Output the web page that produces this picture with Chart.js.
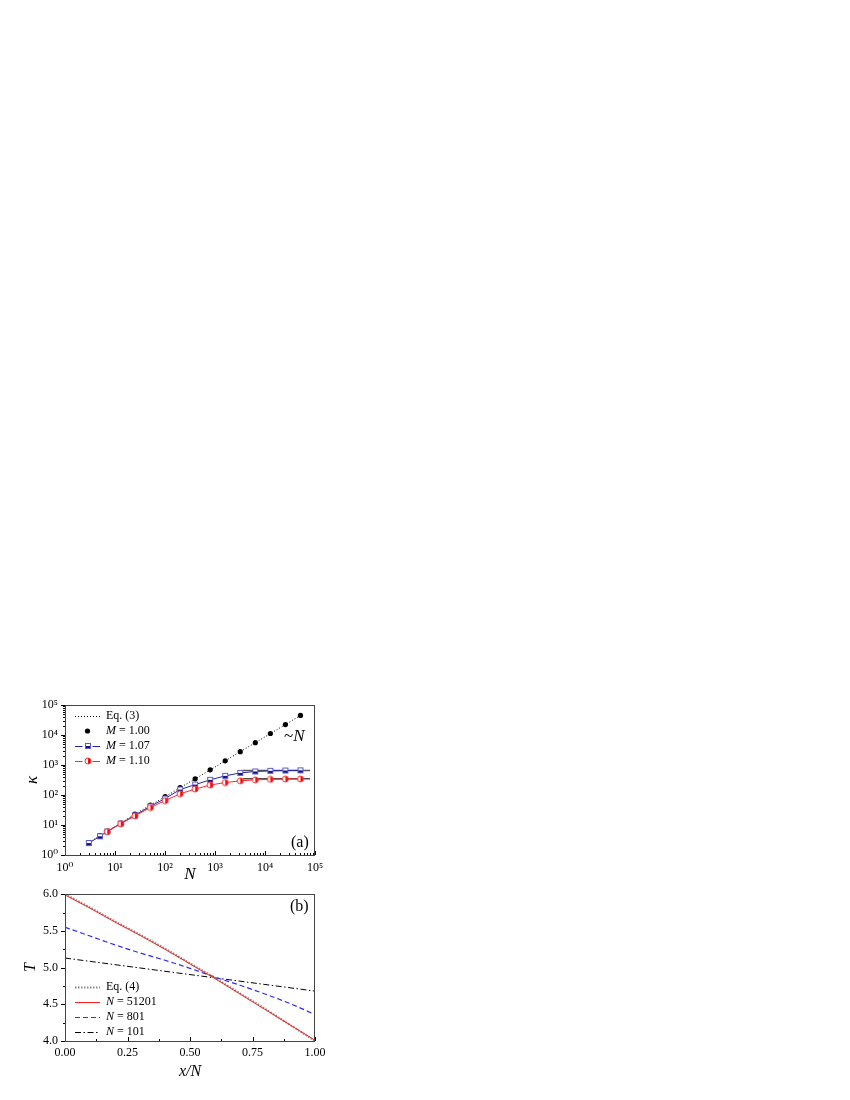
<!DOCTYPE html>
<html>
<head>
<meta charset="utf-8">
<script src="https://cdn.jsdelivr.net/npm/chart.js@4.4.0/dist/chart.umd.min.js"></script>
<style>
  body { margin: 0; background: #fff; width: 850px; height: 1100px; position: relative; }
  canvas { position: absolute; left: 0; }
  #kappaChart { top: 690px; }
  #tempChart { top: 880px; }
</style>
</head>
<body>
<canvas id="kappaChart" width="340" height="200"></canvas>
<canvas id="tempChart" width="340" height="205"></canvas>
<script>
// ---- panel (a): kappa vs N ----
const sizesN = [3, 5, 7, 13, 25, 51, 101, 201, 401, 801, 1601, 3201, 6401, 12801, 25601, 51201];
const kappaEq3 = [2.6, 4.4, 6.2, 11.5, 23, 46, 88, 175, 345, 690, 1380, 2780, 5550, 11200, 22300, 45000];
const kappaM100 = [2.6, 4.4, 6.2, 11.5, 23, 46, 88, 175, 345, 690, 1380, 2780, 5550, 11200, 22300, 45000];
const kappaM107 = [2.5, 4.2, 6.1, 11.2, 21, 42, 76, 152, 222, 320, 435, 545, 608, 638, 655, 665];
const kappaM110 = [null, null, 6.0, 11, 20, 38, 65, 110, 158, 215, 260, 296, 320, 332, 340, 343];
const plateauN = [3600, 80000];
const plateauM107 = [650, 650];
const plateauM110 = [345, 345];
const decadeTicks = [1, 10, 100, 1000, 10000, 100000];

// ---- panel (b): T vs x/N ----
const xFrac = [0, 0.1, 0.2, 0.3, 0.4, 0.5, 0.6, 0.7, 0.8, 0.9, 1.0];
const tempEq4 = [6.00, 5.82, 5.63, 5.45, 5.26, 5.06, 4.86, 4.65, 4.44, 4.22, 4.00];
const temp51201 = [5.99, 5.81, 5.62, 5.44, 5.25, 5.05, 4.85, 4.64, 4.43, 4.22, 4.01];
const temp801 = [5.55, 5.43, 5.31, 5.20, 5.10, 4.99, 4.87, 4.76, 4.64, 4.51, 4.36];
const temp101 = [5.13, 5.085, 5.04, 4.995, 4.95, 4.905, 4.86, 4.815, 4.77, 4.725, 4.68];
const fracTicks = [0, 0.25, 0.5, 0.75, 1.0];
const fracMinor = [0.125, 0.375, 0.625, 0.875];
const tempTicks = [4.0, 4.5, 5.0, 5.5, 6.0];
const tempMinor = [4.25, 4.75, 5.25, 5.75];

const SERIF = "'Liberation Serif', 'DejaVu Serif', serif";
const SUP = ['\u2070', '\u00b9', '\u00b2', '\u00b3', '\u2074', '\u2075'];

function pts(xs, ys) {
  return xs.map((x, i) => ({ x: x, y: ys[i] }));
}

function logMinor(lo, hi) {
  const out = [];
  for (let d = lo; d < hi; d *= 10) {
    for (let m = 2; m <= 9; m++) out.push(m * d);
  }
  return out;
}

// half filled markers, like the original plot symbols
function halfSquare() {
  const c = document.createElement('canvas');
  c.width = 8; c.height = 8;
  const g = c.getContext('2d');
  g.fillStyle = '#fff'; g.fillRect(1, 1, 6, 6);
  g.fillStyle = '#14147a'; g.fillRect(1, 4, 6, 3);
  g.strokeStyle = '#5c5cc8'; g.lineWidth = 1; g.strokeRect(1.5, 1.5, 5, 5);
  return c;
}

function halfCircle() {
  const c = document.createElement('canvas');
  c.width = 8; c.height = 8;
  const g = c.getContext('2d');
  g.beginPath(); g.arc(4, 4, 3, 0, Math.PI * 2);
  g.fillStyle = '#fff'; g.fill();
  g.beginPath(); g.moveTo(4, 4); g.arc(4, 4, 3, -Math.PI / 2, Math.PI / 2); g.closePath();
  g.fillStyle = '#e81010'; g.fill();
  g.beginPath(); g.arc(4, 4, 3, 0, Math.PI * 2);
  g.strokeStyle = '#ff3030'; g.lineWidth = 1; g.stroke();
  return c;
}

function drawParts(ctx, parts, x, y, size) {
  parts.forEach(p => {
    ctx.font = (p.italic ? 'italic ' : '') + size + 'px ' + SERIF;
    ctx.fillText(p.t, x, y);
    x += ctx.measureText(p.t).width;
  });
}

function labelParts(label) {
  const m = label.match(/^([A-Za-z]) (=.*)$/);
  if (m) return [{ t: m[1], italic: true }, { t: ' ' + m[2], italic: false }];
  return [{ t: label, italic: false }];
}

// frame box + tick marks (major/minor) drawn from the scales
const frameTicks = {
  id: 'frameTicks',
  afterDraw(chart, args, opts) {
    const ctx = chart.ctx, a = chart.chartArea;
    const xs = chart.scales.x, ys = chart.scales.y;
    ctx.save();
    ctx.strokeStyle = '#000';
    ctx.lineWidth = 1;
    const seg = (x1, y1, x2, y2) => { ctx.beginPath(); ctx.moveTo(x1, y1); ctx.lineTo(x2, y2); ctx.stroke(); };
    xs.ticks.forEach(t => {
      const p = Math.round(xs.getPixelForValue(t.value)) + 0.5;
      seg(p, a.bottom, p, a.bottom - 4);
    });
    opts.xMinor.forEach(v => {
      const p = Math.round(xs.getPixelForValue(v)) + 0.5;
      seg(p, a.bottom, p, a.bottom - 2);
    });
    ys.ticks.forEach(t => {
      const p = Math.round(ys.getPixelForValue(t.value)) + 0.5;
      seg(a.left - 4, p, a.left, p);
    });
    opts.yMinor.forEach(v => {
      const p = Math.round(ys.getPixelForValue(v)) + 0.5;
      seg(a.left - 2, p, a.left, p);
    });
    ctx.strokeStyle = '#444';
    ctx.strokeRect(Math.round(a.left) + 0.5, Math.round(a.top) + 0.5, Math.round(a.width) - 1, Math.round(a.height));
    ctx.restore();
  }
};

// legend box inside the plot, and the panel notes
const keyNotes = {
  id: 'keyNotes',
  afterDraw(chart, args, opts) {
    const ctx = chart.ctx;
    ctx.save();
    ctx.textBaseline = 'middle';
    ctx.fillStyle = '#000';
    let row = 0;
    chart.data.datasets.forEach(ds => {
      if (!ds.label) return;
      const y = opts.y + row * opts.step;
      row++;
      if (ds.showLine !== false) {
        ctx.save();
        ctx.strokeStyle = ds.borderColor;
        ctx.lineWidth = ds.borderWidth || 1;
        ctx.setLineDash(ds.borderDash || []);
        ctx.beginPath();
        ctx.moveTo(opts.x, Math.round(y) + 0.5);
        ctx.lineTo(opts.x + opts.len, Math.round(y) + 0.5);
        ctx.stroke();
        ctx.restore();
      }
      const mid = opts.x + opts.len / 2;
      if (ds.pointRadius > 0) {
        if (ds.pointStyle instanceof HTMLCanvasElement) {
          const s = ds.pointStyle;
          ctx.fillStyle = '#fff';
          ctx.fillRect(mid - s.width / 2 - 1, y - s.height / 2, s.width + 2, s.height);
          ctx.drawImage(s, Math.round(mid - s.width / 2), Math.round(y - s.height / 2));
        } else {
          ctx.beginPath();
          ctx.arc(mid, y, ds.pointRadius, 0, Math.PI * 2);
          ctx.fillStyle = ds.backgroundColor;
          ctx.fill();
        }
      }
      ctx.fillStyle = '#000';
      drawParts(ctx, labelParts(ds.label), opts.x + opts.len + 6, y, opts.size);
    });
    (opts.notes || []).forEach(n => {
      drawParts(ctx, n.parts, n.x, n.y, n.size);
    });
    ctx.restore();
  }
};

const tickFont = { family: SERIF, size: 12 };
const noGrid = { display: false, drawTicks: false };

// ---------- chart (a) ----------
new Chart(document.getElementById('kappaChart'), {
  type: 'line',
  data: {
    datasets: [
      {
        label: 'Eq. (3)', data: pts(sizesN, kappaEq3), order: 3,
        borderColor: '#000', borderWidth: 1, borderDash: [1, 2], pointRadius: 0
      },
      {
        label: 'M = 1.00', data: pts(sizesN, kappaM100), order: 2, showLine: false,
        pointStyle: 'circle', pointRadius: 2.6, backgroundColor: '#000', borderWidth: 0
      },
      {
        label: 'M = 1.07', data: pts(sizesN, kappaM107), order: 1,
        borderColor: '#2424a8', borderWidth: 1, pointStyle: halfSquare(), pointRadius: 3
      },
      {
        label: 'M = 1.10', data: pts(sizesN, kappaM110), order: 0,
        borderColor: '#ff2a2a', borderWidth: 1, pointStyle: halfCircle(), pointRadius: 3
      },
      {
        data: pts(plateauN, plateauM107), order: 5,
        borderColor: '#5a5a5a', borderWidth: 1.5, pointRadius: 0
      },
      {
        data: pts(plateauN, plateauM110), order: 5,
        borderColor: '#5a4a4a', borderWidth: 1.5, pointRadius: 0
      }
    ]
  },
  options: {
    responsive: false,
    animation: false,
    events: [],
    layout: { padding: { top: 15, right: 25, left: 0, bottom: 0 } },
    scales: {
      x: {
        type: 'logarithmic', min: 1, max: 100000,
        grid: noGrid, border: { display: false },
        afterBuildTicks: s => { s.ticks = decadeTicks.map(v => ({ value: v })); },
        afterFit: s => { s.height = 35; },
        ticks: {
          autoSkip: false, maxRotation: 0, padding: 6, color: '#000', font: tickFont,
          callback: v => '10' + SUP[Math.round(Math.log10(v))]
        },
        title: {
          display: true, text: 'N', color: '#000',
          font: { family: SERIF, size: 17, style: 'italic' }, padding: { top: 0, bottom: 5 }
        }
      },
      y: {
        type: 'logarithmic', min: 1, max: 100000,
        grid: noGrid, border: { display: false },
        afterBuildTicks: s => { s.ticks = decadeTicks.map(v => ({ value: v })); },
        afterFit: s => { s.width = 65; },
        ticks: {
          autoSkip: false, padding: 7, color: '#000', font: tickFont,
          callback: v => '10' + SUP[Math.round(Math.log10(v))]
        },
        title: {
          display: true, text: 'κ', color: '#000',
          font: { family: SERIF, size: 17, style: 'italic' }, padding: { top: 22, bottom: 0 }
        }
      }
    },
    plugins: {
      legend: { display: false },
      tooltip: { enabled: false },
      frameTicks: { xMinor: logMinor(1, 100000), yMinor: logMinor(1, 100000) },
      keyNotes: {
        x: 75, y: 26, step: 15, len: 25, size: 12,
        notes: [
          { parts: [{ t: '~', italic: false }, { t: 'N', italic: true }], x: 284, y: 47, size: 17 },
          { parts: [{ t: '(a)', italic: false }], x: 291, y: 153, size: 16 }
        ]
      }
    }
  },
  plugins: [frameTicks, keyNotes]
});

// ---------- chart (b) ----------
new Chart(document.getElementById('tempChart'), {
  type: 'line',
  data: {
    datasets: [
      {
        label: 'Eq. (4)', data: pts(xFrac, tempEq4), order: 1,
        borderColor: '#8a8a8a', borderWidth: 2, borderDash: [1.5, 1.5], pointRadius: 0,
        cubicInterpolationMode: 'monotone'
      },
      {
        label: 'N = 51201', data: pts(xFrac, temp51201), order: 0,
        borderColor: '#ff2020', borderWidth: 1, pointRadius: 0,
        cubicInterpolationMode: 'monotone'
      },
      {
        label: 'N = 801', data: pts(xFrac, temp801), order: 2,
        borderColor: '#2a2aff', borderWidth: 1.2, borderDash: [5, 3], pointRadius: 0,
        cubicInterpolationMode: 'monotone'
      },
      {
        label: 'N = 101', data: pts(xFrac, temp101), order: 3,
        borderColor: '#000', borderWidth: 1, borderDash: [6, 2.5, 1.5, 2.5], pointRadius: 0,
        cubicInterpolationMode: 'monotone'
      }
    ]
  },
  options: {
    responsive: false,
    animation: false,
    events: [],
    layout: { padding: { top: 11, right: 25, left: 0, bottom: 0 } },
    scales: {
      x: {
        type: 'linear', min: 0, max: 1,
        grid: noGrid, border: { display: false },
        afterBuildTicks: s => { s.ticks = fracTicks.map(v => ({ value: v })); },
        afterFit: s => { s.height = 44; },
        ticks: {
          autoSkip: false, maxRotation: 0, padding: 5, color: '#000', font: tickFont,
          callback: v => v.toFixed(2)
        },
        title: {
          display: true, text: 'x/N', color: '#000',
          font: { family: SERIF, size: 16, style: 'italic' }, padding: { top: 0, bottom: 4 }
        }
      },
      y: {
        type: 'linear', min: 4, max: 6,
        grid: noGrid, border: { display: false },
        afterBuildTicks: s => { s.ticks = tempTicks.map(v => ({ value: v })); },
        afterFit: s => { s.width = 65; },
        ticks: {
          autoSkip: false, padding: 7, color: '#000', font: tickFont,
          callback: v => v.toFixed(1)
        },
        title: {
          display: true, text: 'T', color: '#000',
          font: { family: SERIF, size: 16, style: 'italic' }, padding: { top: 21, bottom: 0 }
        }
      }
    },
    plugins: {
      legend: { display: false },
      tooltip: { enabled: false },
      frameTicks: { xMinor: fracMinor, yMinor: tempMinor },
      keyNotes: {
        x: 75, y: 107, step: 15, len: 25, size: 12,
        notes: [
          { parts: [{ t: '(b)', italic: false }], x: 290, y: 27, size: 16 }
        ]
      }
    }
  },
  plugins: [frameTicks, keyNotes]
});
</script>
</body>
</html>
